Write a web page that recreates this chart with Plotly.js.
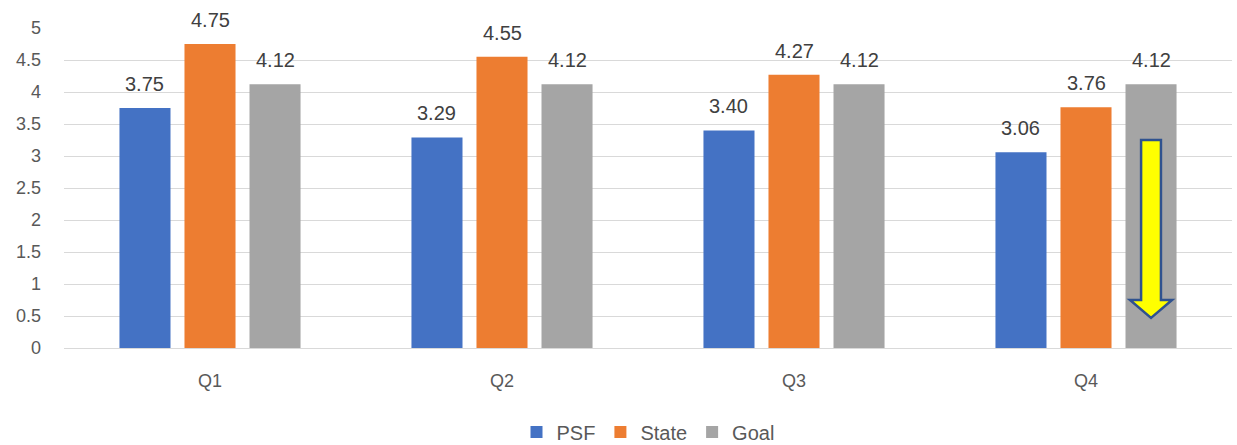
<!DOCTYPE html>
<html><head><meta charset="utf-8">
<script src="https://cdn.plot.ly/plotly-3.0.1.min.js"></script>
<style>body{margin:0;background:#fff}#chart{width:1237px;height:445px}</style>
</head><body><div id="chart"></div>
<script>
const categories = ["Q1", "Q2", "Q3", "Q4"];
const psf = [3.75, 3.29, 3.40, 3.06];
const state = [4.75, 4.55, 4.27, 3.76];
const goal = [4.12, 4.12, 4.12, 4.12];
const yTicks = [0, 0.5, 1, 1.5, 2, 2.5, 3, 3.5, 4, 4.5, 5];

const font = "Liberation Sans, Arial, sans-serif";
const series = [
  {name: "PSF", vals: psf, color: "#4472C4"},
  {name: "State", vals: state, color: "#ED7D31"},
  {name: "Goal", vals: goal, color: "#A5A5A5"}
];
const bargap = 0.332, bargroupgap = 0.215;
const slot = (1 - bargap) / series.length;

const data = series.map(s => ({
  type: "bar", name: s.name, x: categories, y: s.vals,
  marker: {color: s.color}, hoverinfo: "skip"
}));

// value labels placed above each bar via the axes
const annotations = [];
series.forEach((s, si) => {
  const off = (si - (series.length - 1) / 2) * slot;
  s.vals.forEach((v, ci) => {
    annotations.push({
      xref: "x", yref: "y", x: ci + off, y: v, text: v.toFixed(2),
      showarrow: false, yanchor: "bottom", yshift: 11,
      font: {family: font, size: 20, color: "#404040"}
    });
  });
});

// arrow over Q4 goal bar (category index 3, third bar in group)
const aX = 3 + slot, aSw = 0.034, aHw = 0.072, aTop = 3.25, aNeck = 0.75, aTip = 0.47;
const arrowPath = `M ${aX-aSw} ${aTop} L ${aX+aSw} ${aTop} L ${aX+aSw} ${aNeck} L ${aX+aHw} ${aNeck} L ${aX} ${aTip} L ${aX-aHw} ${aNeck} L ${aX-aSw} ${aNeck} Z`;

const layout = {
  width: 1237, height: 445,
  margin: {l: 64, r: 5, t: 28, b: 97, autoexpand: false},
  paper_bgcolor: "#fff", plot_bgcolor: "#fff",
  barmode: "group", bargap: bargap, bargroupgap: bargroupgap,
  font: {family: font, color: "#595959"},
  xaxis: {type: "category", showgrid: false, showline: true, linecolor: "#d9d9d9", linewidth: 1,
          ticks: "", tickfont: {size: 18, color: "#595959"}, ticklabelstandoff: 16, automargin: false},
  yaxis: {range: [0, 5], tickvals: yTicks, ticktext: yTicks.map(String), showgrid: true,
          gridcolor: "#d9d9d9", gridwidth: 1, zeroline: false, showline: false, ticks: "",
          tickfont: {size: 18, color: "#595959"}, ticklabelstandoff: 22, automargin: false},
  legend: {orientation: "h", x: 0.5, xanchor: "center", y: -0.2625, yanchor: "middle",
           font: {size: 20, color: "#595959"}, itemwidth: 30, traceorder: "normal"},
  annotations: annotations,
  shapes: [{type: "path", xref: "x", yref: "y", path: arrowPath,
            fillcolor: "#FFFF00", line: {color: "#2F528F", width: 2.5}}]
};
Plotly.newPlot("chart", data, layout, {staticPlot: true});
</script></body></html>
